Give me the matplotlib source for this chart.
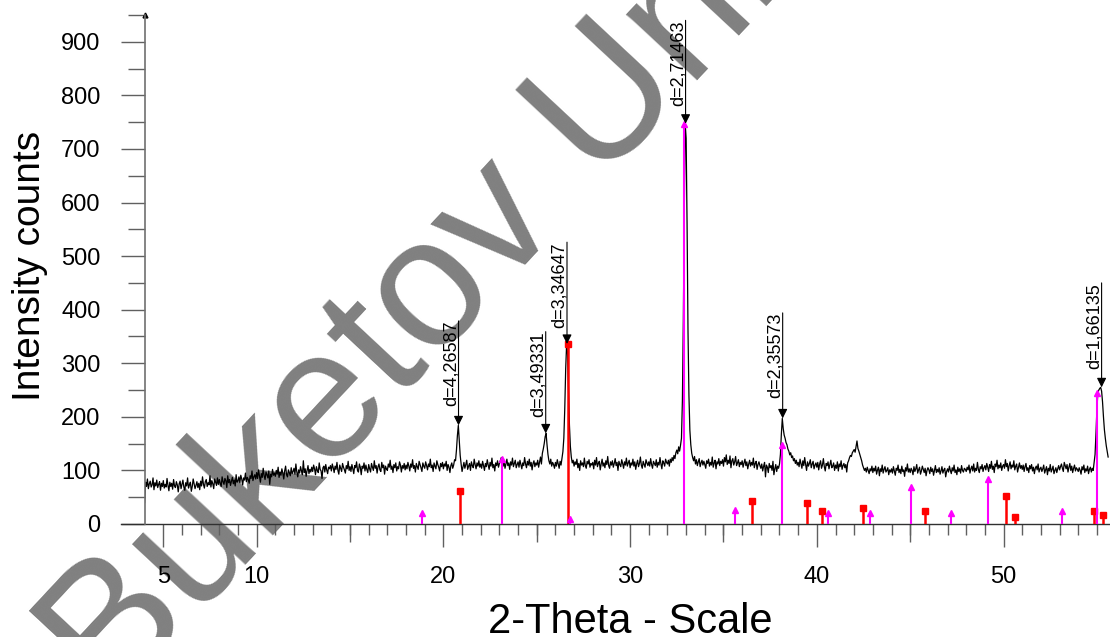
import numpy as np
import matplotlib.pyplot as plt
from matplotlib import transforms

plt.rcParams['font.family'] = ['Liberation Sans', 'DejaVu Sans']

# scan: one row per degree of 2-theta, step 0.05
scan_step = 0.05
scan_first_deg = 4
scan_rows = [
    [40, 78, 70, 84, 66, 75, 80, 69, 73, 86, 64, 77, 71, 82, 68, 74, 79, 63, 76, 70],
    [81, 67, 74, 69, 85, 72, 62, 78, 70, 76, 65, 83, 71, 68, 79, 73, 60, 75, 80, 66],
    [74, 82, 69, 63, 77, 71, 86, 67, 73, 78, 61, 70, 84, 75, 66, 72, 79, 68, 76, 64],
    [80, 71, 88, 74, 67, 79, 83, 70, 77, 73, 90, 69, 81, 75, 66, 84, 78, 72, 86, 74],
    [83, 76, 70, 88, 79, 74, 85, 81, 68, 90, 77, 83, 72, 80, 87, 75, 82, 71, 92, 78],
    [80, 88, 77, 91, 84, 73, 86, 82, 95, 79, 87, 83, 76, 90, 85, 99, 81, 88, 92, 84],
    [96, 85, 101, 89, 78, 94, 87, 104, 90, 83, 97, 92, 86, 99, 74, 93, 88, 102, 91, 95],
    [89, 100, 93, 106, 87, 97, 91, 103, 95, 84, 99, 108, 92, 88, 101, 96, 90, 105, 94, 98],
    [104, 93, 112, 97, 88, 101, 95, 107, 99, 92, 118, 96, 103, 89, 100, 109, 94, 102, 97, 106],
    [98, 110, 103, 92, 107, 100, 96, 114, 102, 99, 85, 105, 108, 97, 111, 101, 94, 106, 103, 109],
    [99, 112, 105, 96, 108, 102, 115, 100, 93, 110, 104, 98, 113, 106, 101, 95, 109, 103, 117, 100],
    [107, 98, 111, 103, 94, 109, 105, 116, 100, 97, 112, 106, 92, 108, 104, 114, 99, 110, 102, 96],
    [111, 103, 97, 113, 106, 100, 118, 104, 109, 95, 107, 112, 101, 98, 115, 105, 110, 93, 108, 103],
    [100, 112, 106, 119, 102, 108, 96, 111, 105, 114, 99, 107, 103, 116, 110, 97, 109, 104, 113, 101],
    [110, 103, 115, 108, 99, 112, 106, 120, 104, 109, 97, 113, 107, 102, 117, 111, 105, 98, 114, 108],
    [104, 116, 109, 101, 112, 107, 121, 105, 110, 98, 114, 108, 103, 118, 111, 106, 99, 113, 107, 115],
    [103, 112, 108, 117, 100, 111, 106, 96, 109, 114, 104, 110, 120, 118, 138, 165, 184, 157, 128, 112],
    [98, 107, 115, 104, 111, 119, 102, 108, 113, 100, 116, 109, 105, 121, 111, 103, 114, 108, 118, 106],
    [112, 104, 117, 109, 100, 113, 107, 120, 110, 102, 115, 108, 123, 105, 111, 99, 114, 109, 118, 106],
    [113, 118, 124, 115, 108, 117, 104, 112, 121, 109, 114, 102, 116, 110, 123, 107, 113, 119, 105, 111],
    [116, 106, 119, 111, 103, 114, 109, 124, 112, 105, 117, 110, 121, 108, 115, 101, 113, 118, 107, 114],
    [110, 119, 106, 116, 125, 112, 132, 140, 150, 163, 169, 148, 130, 118, 112, 121, 108, 115, 111, 104],
    [115, 108, 120, 112, 104, 117, 110, 122, 135, 160, 215, 290, 336, 318, 250, 185, 145, 125, 114, 119],
    [108, 116, 111, 121, 105, 113, 100, 118, 110, 114, 107, 123, 109, 104, 117, 112, 120, 106, 113, 110],
    [115, 103, 119, 110, 124, 107, 113, 117, 101, 112, 121, 108, 114, 105, 118, 111, 126, 109, 104, 116],
    [110, 118, 106, 113, 122, 109, 115, 100, 117, 111, 107, 120, 113, 104, 116, 110, 123, 108, 114, 119],
    [105, 114, 110, 121, 108, 116, 102, 112, 119, 107, 113, 125, 110, 104, 117, 111, 106, 120, 114, 109],
    [116, 108, 122, 111, 104, 117, 113, 109, 120, 106, 115, 110, 124, 112, 103, 118, 114, 108, 121, 115],
    [112, 119, 108, 121, 115, 124, 118, 128, 122, 133, 138, 131, 144, 136, 147, 160, 230, 380, 580, 747],
    [720, 560, 360, 240, 175, 148, 132, 124, 118, 126, 112, 120, 109, 116, 122, 107, 114, 119, 110, 117],
    [111, 104, 118, 113, 121, 108, 115, 110, 125, 106, 114, 119, 103, 116, 112, 122, 109, 117, 113, 120],
    [108, 124, 116, 129, 111, 119, 113, 127, 105, 118, 122, 110, 116, 126, 109, 114, 120, 107, 115, 111],
    [118, 106, 114, 121, 109, 116, 103, 112, 119, 108, 115, 110, 123, 105, 113, 117, 102, 111, 116, 109],
    [104, 112, 99, 108, 115, 88, 110, 106, 96, 113, 105, 109, 100, 117, 92, 103, 111, 98, 108, 104],
    [112, 130, 168, 197, 178, 166, 160, 152, 148, 140, 136, 129, 133, 124, 127, 118, 122, 113, 119, 110],
    [115, 107, 121, 112, 104, 118, 109, 124, 111, 100, 116, 108, 113, 120, 105, 112, 117, 103, 110, 114],
    [106, 115, 101, 112, 118, 104, 110, 122, 107, 99, 113, 109, 116, 103, 111, 119, 105, 108, 114, 100],
    [110, 104, 116, 99, 112, 107, 118, 102, 109, 113, 105, 111, 97, 114, 118, 124, 128, 126, 133, 136],
    [139, 134, 145, 155, 141, 136, 130, 124, 118, 110, 105, 100, 104, 97, 106, 100, 94, 103, 99, 108],
    [96, 104, 99, 108, 93, 101, 106, 90, 103, 98, 110, 95, 102, 107, 97, 100, 105, 92, 101, 97],
    [103, 95, 107, 99, 91, 104, 100, 110, 96, 102, 94, 108, 98, 101, 89, 105, 99, 112, 97, 103],
    [96, 104, 100, 92, 107, 98, 103, 111, 95, 101, 106, 93, 99, 108, 102, 96, 104, 90, 100, 105],
    [101, 94, 106, 98, 103, 91, 100, 109, 96, 102, 97, 105, 93, 99, 107, 95, 101, 104, 88, 98],
    [103, 97, 108, 100, 94, 105, 99, 110, 96, 101, 92, 106, 98, 103, 95, 109, 100, 97, 104, 102],
    [98, 106, 101, 110, 95, 103, 108, 99, 112, 97, 104, 100, 115, 102, 96, 107, 103, 111, 98, 105],
    [109, 101, 113, 106, 98, 111, 104, 117, 102, 108, 96, 112, 107, 119, 103, 110, 105, 114, 100, 108],
    [111, 104, 120, 107, 113, 99, 109, 116, 103, 110, 106, 118, 101, 108, 112, 97, 106, 114, 104, 109],
    [102, 110, 98, 107, 113, 100, 105, 96, 109, 103, 111, 99, 106, 94, 104, 108, 101, 112, 97, 103],
    [106, 98, 103, 110, 95, 101, 107, 92, 104, 99, 111, 97, 102, 108, 94, 100, 105, 96, 103, 109],
    [101, 107, 112, 104, 98, 115, 109, 103, 111, 97, 106, 113, 100, 108, 96, 104, 110, 99, 105, 102],
    [98, 105, 100, 93, 107, 101, 110, 96, 103, 99, 108, 94, 102, 106, 97, 104, 100, 115, 130, 170],
    [215, 245, 250, 253, 255, 248, 228, 200, 176, 160, 146, 135, 125],
]

# reference pattern sticks
red_tth = [20.89, 26.65, 36.53, 39.48, 40.28, 42.48, 45.8, 50.13, 50.6, 54.85, 55.33]
red_int = [61, 336, 43, 39, 24, 30, 24, 52, 13, 24, 17]
mag_tth = [18.85, 23.14, 26.78, 32.89, 35.62, 38.14, 40.6, 42.85, 45.05, 47.19, 49.17, 53.13, 55.0]
mag_int = [20, 122, 10, 747, 26, 147, 20, 20, 69, 20, 84, 24, 245]

# d-spacing labels
peak_d = ['4,26587', '3,49331', '3,34647', '2,71463', '2,35573', '1,66135']
peak_tth = [20.81, 25.48, 26.62, 32.97, 38.17, 55.25]
peak_top = [184, 169, 336, 747, 197, 255]
label_top = [379, 359, 526, 940, 394, 450]

xticks_major = [5, 10, 20, 30, 40, 50]
xticks_mid = [15, 25, 35, 45]

tth, cnt = [], []
for i, row in enumerate(scan_rows):
    tth.extend(scan_first_deg + i + scan_step * np.arange(len(row)))
    cnt.extend(row)

W, H = 1110, 637
fig = plt.figure(figsize=(W / 100, H / 100), dpi=100)
ax = fig.add_axes([145 / W, 113 / H, 965 / W, 509 / H])
ax.patch.set_alpha(0)

ax.set_xlim(4.02, 55.7)
ax.set_ylim(0, 946)

# watermark
ax.text(112 / W, 1 - 708 / H, 'Buketov University', transform=fig.transFigure,
        rotation=47, rotation_mode='anchor', ha='left', va='baseline',
        fontsize=132, color='#808080', zorder=0.5, clip_on=False)

ax.plot(tth, cnt, color='black', lw=0.9, zorder=2)

ax.vlines(red_tth, 0, red_int, color='#ff0000', lw=1.8, zorder=3)
ax.plot(red_tth, red_int, 's', color='#ff0000', ms=4.5, zorder=3)
ax.vlines(mag_tth, 0, mag_int, color='#ff00ff', lw=1.5, zorder=3)
ax.plot(mag_tth, mag_int, '^', color='#ff00ff', ms=4.5, zorder=3)

shift = transforms.offset_copy(ax.transData, fig=fig, x=-3, y=0, units='dots')
for d, x, top, lt in zip(peak_d, peak_tth, peak_top, label_top):
    ax.annotate('', xy=(x, top), xytext=(x, lt),
                arrowprops=dict(arrowstyle='-|>', color='black', lw=0.8,
                                mutation_scale=14, shrinkA=0, shrinkB=0), zorder=4)
    ax.text(x, lt, 'd=' + d, transform=shift, rotation=90, rotation_mode='anchor',
            ha='right', va='baseline', fontsize=13, zorder=4)

# axes styling
for s in ['top', 'right', 'bottom']:
    ax.spines[s].set_visible(False)
ax.spines['left'].set_color('#707070')
ax.spines['left'].set_linewidth(1.2)
ax.axhline(0, xmin=-24 / 965, xmax=1, color='#303030', lw=1, clip_on=False, zorder=2.5)
ax.plot(0, 1, marker='^', color='black', ms=3.5, transform=ax.transAxes, clip_on=False)

ax.set_yticks(np.arange(0, 901, 100))
ax.set_yticks(np.arange(50, 951, 100), minor=True)
ax.tick_params(axis='y', which='major', length=17, width=1, color='#606060',
               labelsize=17, pad=15)
ax.tick_params(axis='y', which='minor', length=12, width=1, color='#606060')

ax.set_xticks(xticks_major)
ax.set_xticks([v for v in range(5, 56) if v not in xticks_major], minor=True)
ax.tick_params(axis='x', which='major', length=16.5, width=1, color='#606060',
               labelsize=17, pad=14)
ax.tick_params(axis='x', which='minor', length=8, width=1, color='#606060')
sec = ax.secondary_xaxis('bottom')
sec.set_xticks(xticks_mid)
sec.tick_params(length=13, width=1, color='#606060', labelbottom=False)
sec.spines['bottom'].set_visible(False)

ax.set_xlabel('2-Theta - Scale', fontsize=30)
ax.xaxis.label.set_va('baseline')
ax.xaxis.set_label_coords(0.5026, -0.2141)
ax.set_ylabel('Intensity counts', fontsize=28)
ax.yaxis.label.set_va('baseline')
ax.yaxis.set_label_coords(-0.1088, 0.507)

fig.savefig('out.png', dpi=100)
